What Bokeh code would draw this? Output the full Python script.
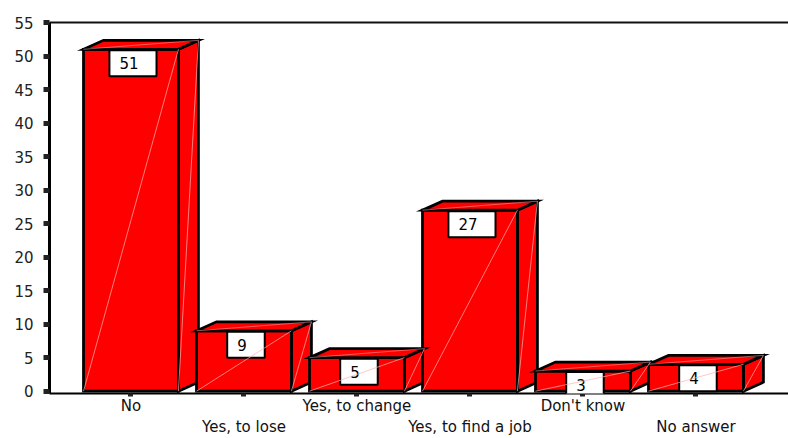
from bokeh.plotting import figure
from bokeh.models import LinearAxis, FixedTicker, Range1d, Label
from bokeh.embed import file_html
from bokeh.resources import INLINE

# ---- data ----
categories = ["No", "Yes, to lose", "Yes, to change", "Yes, to find a job", "Don't know", "No answer"]
counts = [51, 9, 5, 27, 3, 4]
y_ticks = [0, 5, 10, 15, 20, 25, 30, 35, 40, 45, 50, 55]

# ---- style / geometry ----
FONT = "DejaVu Sans"
FS = "15px"
HALF = 0.42      # half width of front face (category units)
DX = 0.177       # depth offset x (category units)
DY = 1.34        # depth offset y (value units)
RED = "#ff0000"

idx = list(range(len(categories)))

p = figure(width=788, height=438, output_backend="svg", toolbar_location=None,
           x_range=Range1d(-0.721, 5.819), y_range=Range1d(-0.35, 55.0),
           x_axis_location=None, y_axis_location=None,
           min_border_left=49, min_border_right=0, min_border_top=22, min_border_bottom=43)
p.outline_line_color = None
p.xgrid.visible = False
p.ygrid.visible = False
p.background_fill_color = "white"
p.border_fill_color = "white"

front_xs = [[i - HALF, i + HALF, i + HALF, i - HALF] for i in idx]
front_ys = [[0, 0, v, v] for v in counts]
side_xs = [[i + HALF, i + HALF + DX, i + HALF + DX, i + HALF] for i in idx]
side_ys = [[0, DY, v + DY, v] for v in counts]
top_xs = [[i - HALF, i + HALF, i + HALF + DX, i - HALF + DX] for i in idx]
top_ys = [[v, v, v + DY, v + DY] for v in counts]

for xs, ys in ((side_xs, side_ys), (front_xs, front_ys), (top_xs, top_ys)):
    p.patches(xs, ys, fill_color=RED, line_color="black", line_width=2.8, line_join="miter")

# faint seam diagonals
p.segment(x0=[i - HALF for i in idx], y0=[0] * len(idx),
          x1=[i + HALF for i in idx], y1=counts,
          line_color="#ffb0b0", line_width=1, line_alpha=0.7, level="overlay")
p.segment(x0=[i + HALF for i in idx], y0=[0] * len(idx),
          x1=[i + HALF + DX for i in idx], y1=[v + DY for v in counts],
          line_color="#ffb0b0", line_width=1, line_alpha=0.7)
p.segment(x0=[i - HALF for i in idx], y0=counts,
          x1=[i + HALF + DX for i in idx], y1=[v + DY for v in counts],
          line_color="#ffb0b0", line_width=1, line_alpha=0.5)

# value labels
for i, v in zip(idx, counts):
    p.add_layout(Label(x=i, y=v, text=str(v), text_align="center", text_baseline="top",
                       x_offset=2, y_offset=-1, text_font=FONT, text_font_size=FS,
                       text_color="black", background_fill_color="white",
                       border_line_color="black", border_line_width=2,
                       padding=dict(left=10, right=18, top=7, bottom=7)))

# y axis
ya = LinearAxis(ticker=FixedTicker(ticks=y_ticks))
ya.axis_line_width = 3
ya.axis_line_color = "black"
ya.major_tick_in = 0
ya.major_tick_out = 6
ya.major_tick_line_width = 5
ya.major_tick_line_color = "#222222"
ya.minor_tick_line_color = None
ya.major_label_standoff = 10
ya.major_label_text_font = FONT
ya.major_label_text_font_size = FS
ya.major_label_text_color = "#222222"
p.add_layout(ya, "left")

# x axis row 1
xa1 = LinearAxis(ticker=FixedTicker(ticks=idx),
                 major_label_overrides={i: (categories[i] if i % 2 == 0 else "") for i in idx})
xa1.axis_line_width = 2
xa1.axis_line_color = "black"
xa1.major_tick_in = 0
xa1.major_tick_out = 3
xa1.major_tick_line_width = 5
xa1.major_tick_line_color = "#222222"
xa1.minor_tick_line_color = None
xa1.major_label_standoff = 0
xa1.major_label_text_font = FONT
xa1.major_label_text_font_size = FS
xa1.major_label_text_color = "#111111"
p.add_layout(xa1, "below")

# x axis row 2
odd = [i for i in idx if i % 2 == 1]
xa2 = LinearAxis(ticker=FixedTicker(ticks=odd),
                 major_label_overrides={i: categories[i] for i in odd})
xa2.axis_line_color = None
xa2.major_tick_line_color = None
xa2.minor_tick_line_color = None
xa2.major_tick_in = 0
xa2.major_tick_out = 0
xa2.major_label_standoff = 0
xa2.major_label_text_font = FONT
xa2.major_label_text_font_size = FS
xa2.major_label_text_color = "#111111"
p.add_layout(xa2, "below")

# top frame line
ta = LinearAxis(ticker=FixedTicker(ticks=[]))
ta.axis_line_width = 2
ta.axis_line_color = "#111111"
ta.major_tick_line_color = None
ta.minor_tick_line_color = None
ta.major_label_text_font_size = "0px"
p.add_layout(ta, "above")

open("out.html", "w").write(file_html(p, INLINE))
